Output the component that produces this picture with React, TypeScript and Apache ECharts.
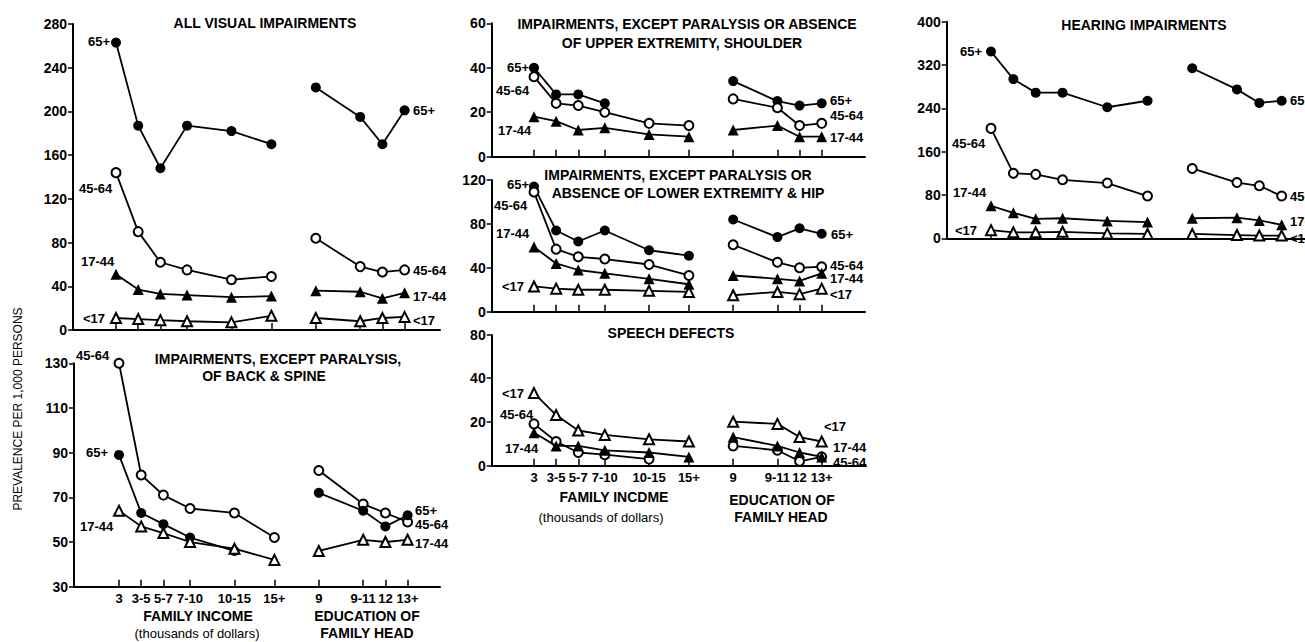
import React, { useEffect, useRef } from "react";
import * as echarts from "echarts";

// ---------- categories ----------
const incomeCats = ["3", "3-5", "5-7", "7-10", "10-15", "15+"];
const eduCats = ["9", "9-11", "12", "13+"];
const incomeSlots = [0, 1, 2, 3.2, 5.2, 7];
const eduSlots = [9, 11, 12, 13];

// ---------- All visual impairments ----------
const visual65Inc = [263, 187, 148, 187, 182, 170];
const visual65Edu = [222, 195, 170, 201];
const visual4564Inc = [144, 90, 62, 55, 46, 49];
const visual4564Edu = [84, 58, 53, 55];
const visual1744Inc = [51, 37, 33, 32, 30, 31];
const visual1744Edu = [36, 35, 29, 34];
const visualU17Inc = [11, 10, 9, 8, 7, 13];
const visualU17Edu = [11, 8, 11, 12];
const visualTicks = [0, 40, 80, 120, 160, 200, 240, 280];

// ---------- Back & spine ----------
const back4564Inc = [130, 80, 71, 65, 63, 52];
const back4564Edu = [82, 67, 63, 59];
const back65Inc = [89, 63, 58, 52, 46, null];
const back65Edu = [72, 64, 57, 62];
const back1744Inc = [64, 57, 54, 50, 47, 42];
const back1744Edu = [46, 51, 50, 51];
const backTicks = [30, 50, 70, 90, 110, 130];

// ---------- Upper extremity, shoulder ----------
const upper65Inc = [40, 28, 28, 24, null, null];
const upper65Edu = [34, 25, 23, 24];
const upper4564Inc = [36, 24, 23, 20, 15, 14];
const upper4564Edu = [26, 22, 14, 15];
const upper1744Inc = [18, 16, 12, 13, 10, 9];
const upper1744Edu = [12, 14, 9, 9];
const upperTicks = [0, 20, 40, 60];

// ---------- Lower extremity & hip ----------
const lower65Inc = [114, 74, 64, 74, 56, 51];
const lower65Edu = [84, 68, 76, 71];
const lower4564Inc = [109, 57, 50, 48, 43, 33];
const lower4564Edu = [61, 45, 40, 41];
const lower1744Inc = [59, 44, 38, 35, 30, 25];
const lower1744Edu = [33, 30, 28, 35];
const lowerU17Inc = [23, 21, 20, 20, 19, 18];
const lowerU17Edu = [15, 18, 16, 21];
const lowerTicks = [0, 40, 80, 120];

// ---------- Speech defects ----------
const speechU17Inc = [33, 23, 16, 14, 12, 11];
const speechU17Edu = [20, 19, 13, 11];
const speech4564Inc = [19, 11, 6, 5, 3, null];
const speech4564Edu = [9, 7, 2, 4];
const speech1744Inc = [15, 9, 9, 7, 6, 4];
const speech1744Edu = [13, 9, 6, 4];
const speechTicks = [0, 20, 40];
const speechTopLabel = "80";

// ---------- Hearing ----------
const hear65Inc = [345, 294, 269, 269, 242, 254];
const hear65Edu = [314, 275, 250, 254];
const hear4564Inc = [203, 120, 118, 108, 102, 78];
const hear4564Edu = [129, 103, 97, 78];
const hear1744Inc = [60, 47, 36, 37, 32, 30];
const hear1744Edu = [37, 38, 33, 25];
const hearU17Inc = [15, 11, 11, 12, 9, 8];
const hearU17Edu = [8, 6, 5, 5];
const hearTicks = [0, 80, 160, 240, 320, 400];

const FONT = "'Liberation Sans Narrow', 'Liberation Sans', Arial, sans-serif";

const SYM = {
  c65: { shape: "circle", filled: true, size: 10 },
  c4564: { shape: "circle", filled: false, size: 9 },
  t1744: { shape: "triangle", filled: true, size: 11 },
  tU17: { shape: "triangle", filled: false, size: 10 },
};

type Group = { sym: any; inc: (number | null)[]; edu: (number | null)[] };

const allSlots = [...incomeSlots, ...eduSlots];
const allCats = [...incomeCats, ...eduCats];

const panels: any[] = [
  {
    left: 73, right: 440, p0: 116, u: 22.2, top: 24, bottom: 330, min: 0, max: 280,
    ticks: visualTicks, showX: false,
    groups: [
      { sym: SYM.c65, inc: visual65Inc, edu: visual65Edu },
      { sym: SYM.c4564, inc: visual4564Inc, edu: visual4564Edu },
      { sym: SYM.t1744, inc: visual1744Inc, edu: visual1744Edu },
      { sym: SYM.tU17, inc: visualU17Inc, edu: visualU17Edu },
    ],
  },
  {
    left: 74, right: 440, p0: 119, u: 22.2, top: 363.3, bottom: 586.7, min: 30, max: 130,
    ticks: backTicks, showX: true,
    groups: [
      { sym: SYM.c4564, inc: back4564Inc, edu: back4564Edu },
      { sym: SYM.c65, inc: back65Inc, edu: back65Edu },
      { sym: SYM.tU17, inc: back1744Inc, edu: back1744Edu },
    ],
  },
  {
    left: 491.7, right: 865, p0: 534, u: 22.13, top: 23.3, bottom: 156.7, min: 0, max: 60,
    ticks: upperTicks, showX: false,
    groups: [
      { sym: SYM.c65, inc: upper65Inc, edu: upper65Edu },
      { sym: SYM.c4564, inc: upper4564Inc, edu: upper4564Edu },
      { sym: SYM.t1744, inc: upper1744Inc, edu: upper1744Edu },
    ],
  },
  {
    left: 491.7, right: 865, p0: 534, u: 22.13, top: 180, bottom: 311.7, min: 0, max: 120,
    ticks: lowerTicks, showX: false,
    groups: [
      { sym: SYM.c65, inc: lower65Inc, edu: lower65Edu },
      { sym: SYM.c4564, inc: lower4564Inc, edu: lower4564Edu },
      { sym: SYM.t1744, inc: lower1744Inc, edu: lower1744Edu },
      { sym: SYM.tU17, inc: lowerU17Inc, edu: lowerU17Edu },
    ],
  },
  {
    left: 491.7, right: 866, p0: 534, u: 22.13, top: 335, bottom: 465.7, min: 0, max: 59.4,
    ticks: [...speechTicks, 59.4], topLabel: speechTopLabel, showX: true,
    groups: [
      { sym: SYM.tU17, inc: speechU17Inc, edu: speechU17Edu },
      { sym: SYM.c4564, inc: speech4564Inc, edu: speech4564Edu },
      { sym: SYM.t1744, inc: speech1744Inc, edu: speech1744Edu },
    ],
  },
  {
    left: 946.7, right: 1305, p0: 991, u: 22.36, top: 21.7, bottom: 238.3, min: 0, max: 400,
    ticks: hearTicks, showX: false,
    groups: [
      { sym: SYM.c65, inc: hear65Inc, edu: hear65Edu },
      { sym: SYM.c4564, inc: hear4564Inc, edu: hear4564Edu },
      { sym: SYM.t1744, inc: hear1744Inc, edu: hear1744Edu },
      { sym: SYM.tU17, inc: hearU17Inc, edu: hearU17Edu },
    ],
  },
];

function txt(text: string, x: number, y: number, size = 13, align = "left", weight = "bold", rotation = 0) {
  return {
    type: "text",
    x,
    y,
    rotation,
    silent: true,
    z: 50,
    style: {
      text,
      fill: "#000",
      font: `${weight} ${size}px ${FONT}`,
      textAlign: align,
      textVerticalAlign: "middle",
      align,
      verticalAlign: "middle",
    },
  };
}

function buildOption() {
  const grid: any[] = [];
  const xAxis: any[] = [];
  const yAxis: any[] = [];
  const series: any[] = [];

  panels.forEach((p, gi) => {
    grid.push({
      left: p.left,
      top: p.top,
      width: p.right - p.left,
      height: p.bottom - p.top,
      containLabel: false,
      outerBoundsMode: "none",
    });
    xAxis.push({
      type: "value",
      gridIndex: gi,
      min: (p.left - p.p0) / p.u,
      max: (p.right - p.p0) / p.u,
      axisLine: { show: true, onZero: false, lineStyle: { color: "#000", width: 2 } },
      axisTick: {
        show: true,
        inside: true,
        length: 7,
        customValues: allSlots,
        lineStyle: { color: "#000", width: 1.5 },
      },
      axisLabel: {
        show: p.showX,
        customValues: allSlots,
        margin: 5,
        color: "#000",
        fontFamily: FONT,
        fontWeight: "bold",
        fontSize: 13,
        formatter: (v: number) => {
          const i = allSlots.findIndex((s) => Math.abs(s - v) < 1e-6);
          return i >= 0 ? allCats[i] : "";
        },
      },
      splitLine: { show: false },
    });
    yAxis.push({
      type: "value",
      gridIndex: gi,
      min: p.min,
      max: p.max,
      axisLine: { show: true, onZero: false, lineStyle: { color: "#000", width: 2 } },
      axisTick: {
        show: true,
        inside: false,
        length: 5,
        customValues: p.ticks,
        lineStyle: { color: "#000", width: 1.5 },
      },
      axisLabel: {
        show: true,
        customValues: p.ticks,
        margin: 6,
        color: "#000",
        fontFamily: FONT,
        fontWeight: "bold",
        fontSize: 14,
        formatter: (v: number) => (p.topLabel && Math.abs(v - p.max) < 1e-6 ? p.topLabel : String(v)),
      },
      splitLine: { show: false },
    });

    p.groups.forEach((g: Group, k: number) => {
      const mk = (arr: (number | null)[], slots: number[]) => ({
        type: "line",
        xAxisIndex: gi,
        yAxisIndex: gi,
        data: arr
          .map((v, i) => (v == null ? null : [slots[i], v]))
          .filter((d) => d !== null),
        symbol: g.sym.shape,
        symbolSize: g.sym.size,
        showSymbol: true,
        silent: true,
        z: 10 + k,
        lineStyle: { color: "#000", width: 1.8 },
        itemStyle: g.sym.filled
          ? { color: "#000", borderColor: "#000", borderWidth: 0 }
          : { color: "#fff", borderColor: "#000", borderWidth: 2 },
      });
      series.push(mk(g.inc, incomeSlots));
      series.push(mk(g.edu, eduSlots));
    });
  });

  const graphic: any[] = [
    // titles
    txt("ALL VISUAL IMPAIRMENTS", 265, 23, 14, "center"),
    txt("IMPAIRMENTS, EXCEPT PARALYSIS,", 278, 359, 14, "center"),
    txt("OF BACK & SPINE", 264, 376, 14, "center"),
    txt("IMPAIRMENTS, EXCEPT PARALYSIS OR ABSENCE", 687, 24, 14, "center"),
    txt("OF UPPER EXTREMITY, SHOULDER", 682, 43, 14, "center"),
    txt("IMPAIRMENTS, EXCEPT PARALYSIS OR", 678, 175, 14, "center"),
    txt("ABSENCE OF LOWER EXTREMITY & HIP", 688, 193, 14, "center"),
    txt("SPEECH DEFECTS", 671, 333, 14, "center"),
    txt("HEARING IMPAIRMENTS", 1144, 25, 14, "center"),
    // axis titles
    txt("FAMILY INCOME", 198, 616, 14, "center"),
    txt("(thousands of dollars)", 197, 633, 13, "center", "normal"),
    txt("EDUCATION OF", 367, 616, 14, "center"),
    txt("FAMILY HEAD", 367, 633, 14, "center"),
    txt("FAMILY INCDME", 614, 497, 14, "center"),
    txt("(thousands of dollars)", 601, 517, 13, "center", "normal"),
    txt("EDUCATION OF", 782, 500, 14, "center"),
    txt("FAMILY HEAD", 781, 517, 14, "center"),
    txt("PREVALENCE PER 1,000 PERSONS", 18, 409, 12, "center", "normal", Math.PI / 2),
    // panel 1 annotations
    txt("65+", 88, 41), txt("45-64", 79, 188), txt("17-44", 81, 261), txt("<17", 83, 318),
    txt("65+", 413, 110), txt("45-64", 413, 270), txt("17-44", 413, 296), txt("<17", 413, 320),
    // panel 2
    txt("45-64", 76, 355), txt("65+", 86, 452), txt("17-44", 80, 526),
    txt("65+", 415, 510), txt("45-64", 415, 524), txt("17-44", 415, 543),
    // panel 3
    txt("65+", 507, 67), txt("45-64", 496, 90), txt("17-44", 498, 130),
    txt("65+", 830, 100), txt("45-64", 830, 115), txt("17-44", 830, 137),
    // panel 4
    txt("65+", 507, 184), txt("45-64", 494, 205), txt("17-44", 496, 233), txt("<17", 502, 286),
    txt("65+", 831, 234), txt("45-64", 830, 265), txt("17-44", 830, 278), txt("<17", 830, 294),
    // panel 5
    txt("<17", 502, 393), txt("45-64", 500, 414), txt("17-44", 505, 448),
    txt("<17", 824, 426), txt("17-44", 833, 447), txt("45-64", 833, 462),
    // panel 6
    txt("65+", 960, 51), txt("45-64", 952, 143), txt("17-44", 953, 192), txt("<17", 955, 230),
    txt("65+", 1290, 100), txt("45-64", 1290, 196), txt("17-44", 1290, 221), txt("<17", 1290, 238),
  ];

  return {
    animation: false,
    backgroundColor: "#fff",
    grid,
    xAxis,
    yAxis,
    series,
    graphic,
  };
}

export default function App() {
  const ref = useRef<HTMLDivElement>(null);
  useEffect(() => {
    if (!ref.current) return;
    const chart = echarts.init(ref.current, null, { renderer: "svg" });
    chart.setOption(buildOption() as any);
    return () => chart.dispose();
  }, []);
  return (
    <div
      ref={ref}
      style={{ position: "fixed", left: 0, top: 0, width: 1305, height: 642, background: "#fff" }}
    />
  );
}
